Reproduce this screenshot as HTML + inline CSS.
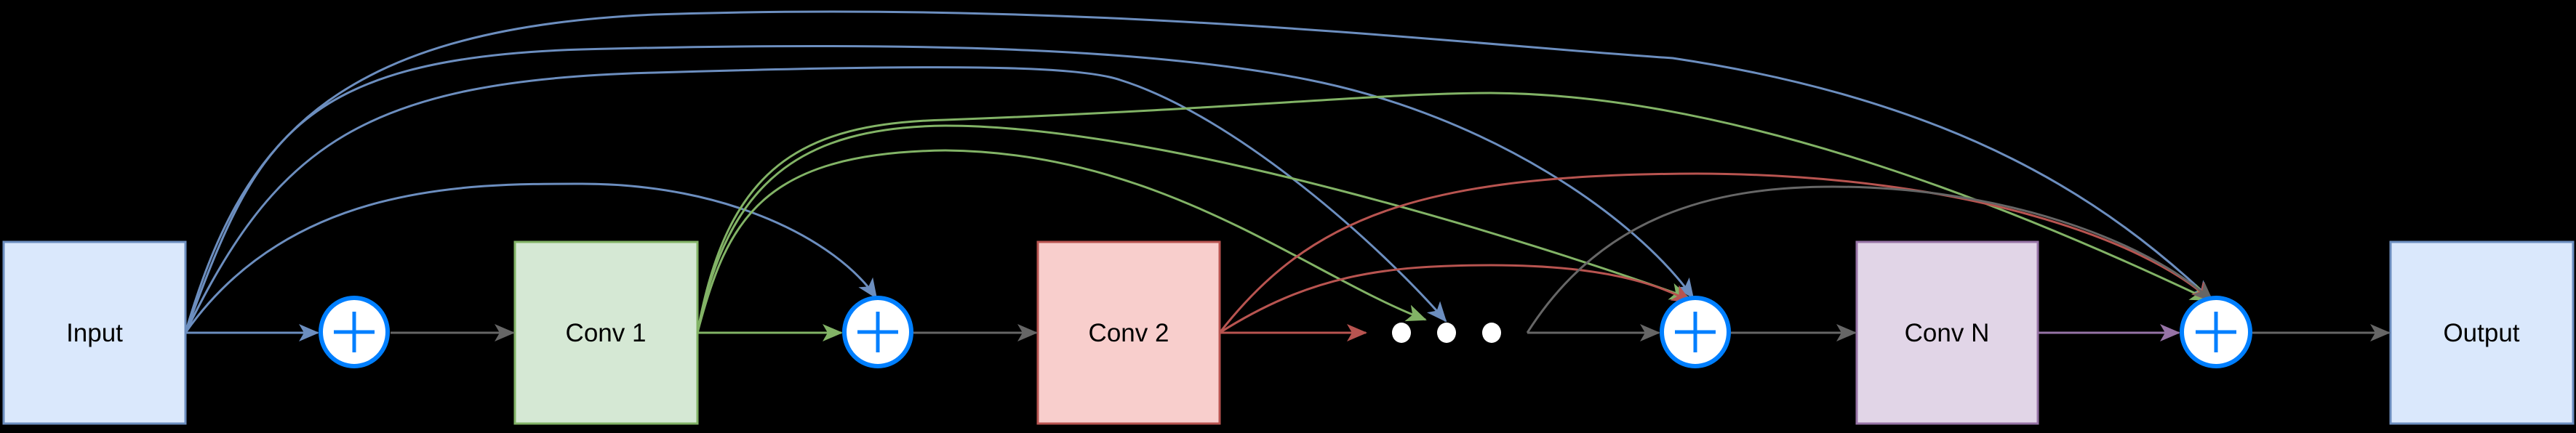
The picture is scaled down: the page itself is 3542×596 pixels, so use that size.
<!DOCTYPE html>
<html><head><meta charset="utf-8"><style>
html,body{margin:0;padding:0;background:#000;}
svg{display:block;}
text{font-family:"Liberation Sans",sans-serif;font-size:35px;fill:#000;}
</style></head><body>
<svg width="3542" height="596" viewBox="0 0 3542 596" xmlns="http://www.w3.org/2000/svg">
<defs>
<marker id="mb" markerUnits="userSpaceOnUse" markerWidth="30" markerHeight="30" viewBox="0 0 30 30" refX="26" refY="15" orient="auto"><path d="M0,3 L28,15 L0,27 L7,15 Z" fill="#6c8ebf"/></marker>
<marker id="mg" markerUnits="userSpaceOnUse" markerWidth="30" markerHeight="30" viewBox="0 0 30 30" refX="26" refY="15" orient="auto"><path d="M0,3 L28,15 L0,27 L7,15 Z" fill="#82b366"/></marker>
<marker id="mr" markerUnits="userSpaceOnUse" markerWidth="30" markerHeight="30" viewBox="0 0 30 30" refX="26" refY="15" orient="auto"><path d="M0,3 L28,15 L0,27 L7,15 Z" fill="#b85450"/></marker>
<marker id="mk" markerUnits="userSpaceOnUse" markerWidth="30" markerHeight="30" viewBox="0 0 30 30" refX="26" refY="15" orient="auto"><path d="M0,3 L28,15 L0,27 L7,15 Z" fill="#666666"/></marker>
<marker id="mp" markerUnits="userSpaceOnUse" markerWidth="30" markerHeight="30" viewBox="0 0 30 30" refX="26" refY="15" orient="auto"><path d="M0,3 L28,15 L0,27 L7,15 Z" fill="#9673a6"/></marker>
</defs>

<rect x="5" y="333" width="250" height="250" fill="#dae8fc" stroke="#6c8ebf" stroke-width="3"/>
<text x="130" y="470" text-anchor="middle">Input</text>
<rect x="708" y="333" width="251" height="250" fill="#d5e8d4" stroke="#82b366" stroke-width="3"/>
<text x="833" y="470" text-anchor="middle">Conv 1</text>
<rect x="1427" y="333" width="250" height="250" fill="#f8cecc" stroke="#b85450" stroke-width="3"/>
<text x="1552" y="470" text-anchor="middle">Conv 2</text>
<rect x="2553" y="333" width="249" height="250" fill="#e1d5e7" stroke="#9673a6" stroke-width="3"/>
<text x="2677" y="470" text-anchor="middle">Conv N</text>
<rect x="3287" y="333" width="251" height="250" fill="#dae8fc" stroke="#6c8ebf" stroke-width="3"/>
<text x="3412" y="470" text-anchor="middle">Output</text>

<g fill="none" stroke-width="3">
<path d="M255,458 L437,458" stroke="#6c8ebf" marker-end="url(#mb)"/>
<path d="M537,458 L706,458" stroke="#666" marker-end="url(#mk)"/>
<path d="M959,458 L1157,458" stroke="#82b366" marker-end="url(#mg)"/>
<path d="M1256,458 L1425,458" stroke="#666" marker-end="url(#mk)"/>
<path d="M1677,458 L1878,458" stroke="#b85450" marker-end="url(#mr)"/>
<path d="M2100,458 L2281,458" stroke="#666" marker-end="url(#mk)"/>
<path d="M2380,458 L2551,458" stroke="#666" marker-end="url(#mk)"/>
<path d="M2802,458 L2996,458" stroke="#9673a6" marker-end="url(#mp)"/>
<path d="M3097,458 L3285,458" stroke="#666" marker-end="url(#mk)"/>
</g>

<g fill="none" stroke-width="3">
<path d="M255,458 C330,200 450,40 900,20 C1500,0 2000,60 2300,80 C2700,140 2900,280 3040,412" stroke="#6c8ebf" marker-end="url(#mb)"/>
<path d="M255,458 C350,200 400,80 800,68 C1300,55 1600,70 1800,110 C2050,160 2250,300 2328,410" stroke="#6c8ebf" marker-end="url(#mb)"/>
<path d="M255,458 C380,200 500,110 900,100 C1300,88 1480,90 1540,110 C1700,160 1900,340 1988,442" stroke="#6c8ebf" marker-end="url(#mb)"/>
<path d="M255,458 C400,250 650,253 800,253 C1000,253 1150,330 1205,410" stroke="#6c8ebf" marker-end="url(#mb)"/>
<path d="M959,458 C1000,300 1050,210 1300,207 C1600,210 1800,380 1960,440" stroke="#82b366" marker-end="url(#mg)"/>
<path d="M959,458 C1000,250 1100,175 1300,173 C1600,173 2100,330 2322,410" stroke="#82b366" marker-end="url(#mg)"/>
<path d="M959,458 C1000,230 1100,170 1300,165 C1700,150 1900,128 2050,128 C2400,130 2800,300 3038,413" stroke="#82b366" marker-end="url(#mg)"/>
<path d="M1677,458 C1800,380 1900,365 2050,365 C2200,365 2280,390 2325,416" stroke="#b85450" marker-end="url(#mr)"/>
<path d="M1677,458 C1800,300 1950,240 2333,239 C2700,240 2950,330 3040,414" stroke="#b85450" marker-end="url(#mr)"/>
<path d="M2100,458 C2200,300 2350,257 2520,257 C2750,257 2950,330 3042,414" stroke="#666" marker-end="url(#mk)"/>
</g>

<ellipse cx="1927" cy="458" rx="13" ry="14" fill="#fff"/>
<ellipse cx="1989" cy="458" rx="13" ry="14" fill="#fff"/>
<ellipse cx="2051" cy="458" rx="13" ry="14" fill="#fff"/>

<g stroke="#007fff">
<ellipse cx="487" cy="457" rx="46" ry="47" fill="#fff" stroke-width="6"/>
<path d="M459,457 H515 M487,429 V485" stroke-width="5"/>
<ellipse cx="1207" cy="457" rx="46" ry="47" fill="#fff" stroke-width="6"/>
<path d="M1179,457 H1235 M1207,429 V485" stroke-width="5"/>
<ellipse cx="2331" cy="457" rx="46" ry="47" fill="#fff" stroke-width="6"/>
<path d="M2303,457 H2359 M2331,429 V485" stroke-width="5"/>
<ellipse cx="3047" cy="457" rx="47" ry="47" fill="#fff" stroke-width="6"/>
<path d="M3019,457 H3075 M3047,429 V485" stroke-width="5"/>
</g>
</svg>
</body></html>
